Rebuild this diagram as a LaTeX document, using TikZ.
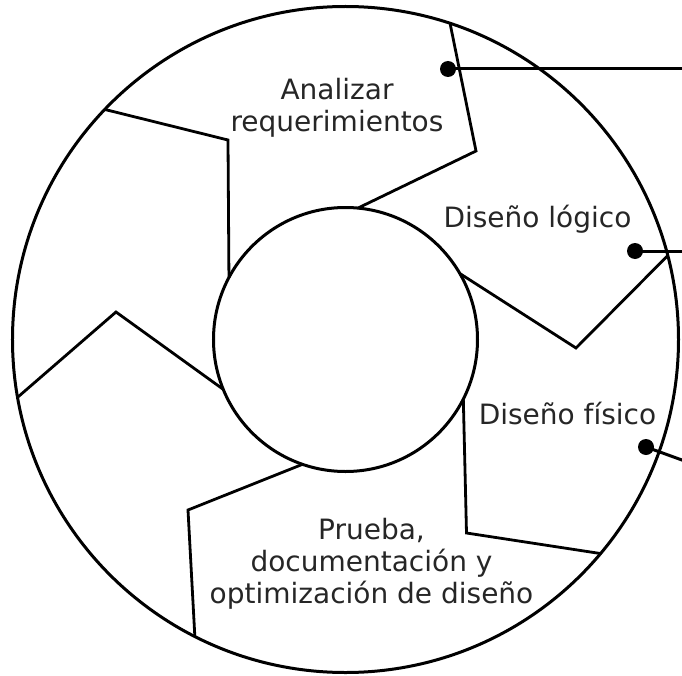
\documentclass[tikz,border=0pt]{standalone}
\usepackage{fontspec}
\setmainfont{DejaVu Sans}
\begin{document}
\begin{tikzpicture}[
    x=1pt, y=1pt,
    borde/.style={line width=3pt},
    division/.style={line width=2.8pt},
    punto/.style={circle, fill=black, inner sep=0pt, minimum size=16pt},
    enlace/.style={line width=3pt},
    etapa/.style={align=center, text=black!85, font=\fontsize{28}{32}\selectfont}
]

% Marco de la figura
\useasboundingbox (-345.5,-335.5) rectangle (336.5,339.5);

% Centro y círculos
\coordinate (O) at (0,0);
\draw[borde] (O) circle (333);
\draw[borde] (O) circle (132);

% Divisiones entre etapas (del círculo interior al exterior)
\draw[division] (84.6:132) -- (130.5,188.5) -- (71.7:333);
\draw[division] (30:132) -- (230.5,-8.5) -- (14.6:333);
\draw[division] (-26.8:132) -- (121,-193.5) -- (-40:333);
\draw[division] (-109:132) -- (-157.5,-170.5) -- (-116.9:333);
\draw[division] (-157.8:132) -- (-229.5,27.5) -- (-170:333);
\draw[division] (152:132) -- (-117.5,199.5) -- (136.3:333);

% Nombres de las etapas
\node[etapa] (analisis) at (-8.5,232) {Analizar\\requerimientos};
\node[etapa] (logico) at (192,120) {Diseño lógico};
\node[etapa] (fisico) at (222,-74) {Diseño físico};
\node[etapa] (prueba) at (26,-224) {Prueba,\\documentación y\\optimización de diseño};

% Puntos y líneas de referencia
\node[punto] (p1) at (102.5,270.5) {};
\node[punto] (p2) at (289.5,88.5) {};
\node[punto] (p3) at (300.5,-107.5) {};
\coordinate (q1) at (350,270.5);
\coordinate (q2) at (350,88.5);
\coordinate (q3) at (350,-125.4);
\draw[enlace] (p1.center) -- (q1);
\draw[enlace] (p2.center) -- (q2);
\draw[enlace] (p3.center) -- (q3);

\end{tikzpicture}
\end{document}
